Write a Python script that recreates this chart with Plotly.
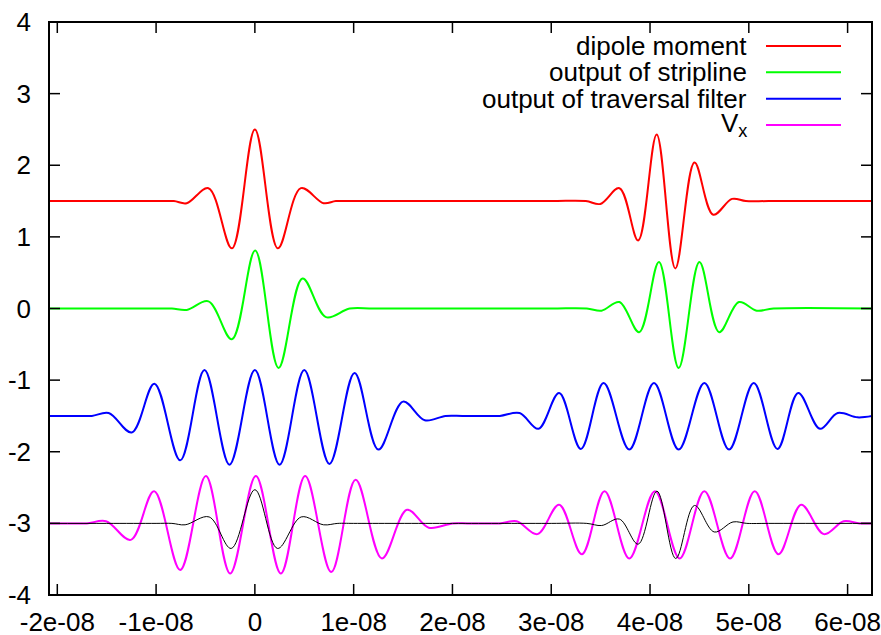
import plotly.graph_objects as go

# ---- data (time in ns, converted to seconds below) ----
dip_t = [-20.84, -15, -10, -8.2, -6.9, -4.7, -2.33, 0, 2.33, 4.66, 6.95, 8.2, 10, 20, 30, 33.5,
         34.97, 36.9, 38.8, 40.67, 42.56, 44.5, 46.4, 48.3, 49.7, 52, 62.47]
dip_y = [1.5, 1.5, 1.5, 1.5, 1.47, 1.68, 0.84, 2.50, 0.84, 1.68, 1.47, 1.5, 1.5, 1.5, 1.5, 1.5,
         1.46, 1.68, 0.95, 2.43, 0.56, 2.04, 1.31, 1.53, 1.5, 1.5, 1.5]

strip_t = [-20.84, -15, -10, -8.4, -6.9, -4.7, -2.33, 0.03, 2.4, 4.82, 7.2, 9.6, 12, 20, 30, 33.6,
           35.1, 36.9, 38.9, 40.9, 42.9, 45.0, 47.0, 49.0, 50.8, 52.5, 62.47]
strip_y = [0, 0, 0, 0, -0.02, 0.10, -0.43, 0.81, -0.83, 0.42, -0.12, 0.0, 0, 0, 0, 0,
           -0.03, 0.09, -0.33, 0.65, -0.83, 0.65, -0.33, 0.09, -0.03, 0, 0]

filt_t = [-20.84, -18, -16.5, -14.8, -12.46, -10.17, -7.56, -5.1, -2.57, 0, 2.5, 5.0, 7.55, 10.09,
          12.5, 15.0, 17.2, 19.3, 21, 23, 24.8, 26.8, 28.7, 30.8, 33.0, 35.3, 37.9, 40.4, 42.9,
          45.5, 48.0, 50.5, 52.9, 55.0, 57.2, 59.0, 61.0, 62.47]
filt_y = [-1.5, -1.5, -1.5, -1.46, -1.73, -1.05, -2.12, -0.86, -2.18, -0.86, -2.18, -0.86, -2.17, -0.90,
          -1.97, -1.30, -1.56, -1.5, -1.5, -1.5, -1.5, -1.46, -1.68, -1.18, -1.96, -1.04, -1.97, -1.04, -1.97,
          -1.04, -1.97, -1.04, -1.96, -1.18, -1.68, -1.46, -1.52, -1.5]

vx_t = [-20.84, -18.5, -17, -15.06, -12.56, -10.2, -7.56, -4.96, -2.5, 0.1, 2.63, 5.09, 7.73, 10.2,
        12.86, 15.4, 17.6, 20.0, 21.5, 23, 24.8, 26.5, 28.6, 30.8, 33.1, 35.4, 37.9, 40.5, 43.0,
        45.5, 48.1, 50.6, 53.0, 55.3, 57.6, 59.6, 61.2, 62.47]
vx_y = [-3, -3, -3, -2.97, -3.23, -2.55, -3.65, -2.34, -3.70, -2.34, -3.70, -2.34, -3.68, -2.39,
        -3.49, -2.81, -3.06, -3.0, -3.0, -3, -3, -2.97, -3.15, -2.74, -3.43, -2.55, -3.49, -2.55, -3.49,
        -2.55, -3.49, -2.55, -3.43, -2.74, -3.15, -2.97, -3.0, -3.0]

blk_t = [-20.84, -15, -10, -8.4, -7.06, -4.63, -2.4, 0, 2.29, 4.69, 6.95, 8.4, 10, 20, 30, 33.6,
         35.1, 36.9, 38.8, 40.7, 42.6, 44.5, 46.5, 48.4, 49.8, 52, 62.47]
blk_y = [-3, -3, -3, -3, -3.02, -2.91, -3.35, -2.53, -3.35, -2.91, -3.02, -3, -3, -3, -3, -3,
         -3.03, -2.94, -3.29, -2.55, -3.49, -2.75, -3.12, -2.98, -3, -3, -3]

x_ticks = [-2e-08, -1e-08, 0, 1e-08, 2e-08, 3e-08, 4e-08, 5e-08, 6e-08]
x_tick_labels = ["-2e-08", "-1e-08", "0", "1e-08", "2e-08", "3e-08", "4e-08", "5e-08", "6e-08"]
y_ticks = [-4, -3, -2, -1, 0, 1, 2, 3, 4]

series = [
    ("dipole moment", dip_t, dip_y, "#ff0000", 2),
    ("output of stripline", strip_t, strip_y, "#00ff00", 2),
    ("output of traversal filter", filt_t, filt_y, "#0000ff", 2),
    ("V<sub>x</sub>", vx_t, vx_y, "#ff00ff", 2),
    (None, blk_t, blk_y, "#000000", 1),
]

NS = 1e-9
FONT = "Liberation Sans, Arial, Helvetica, sans-serif"
FS = 26

fig = go.Figure()
for name, t, y, col, w in series:
    fig.add_trace(go.Scatter(
        x=[v * NS for v in t], y=y, mode="lines",
        line=dict(color=col, width=w, shape="spline", smoothing=1.0),
        showlegend=False, hoverinfo="skip"))

# plot area in page pixels
L, R, T, B = 49, 872, 22, 595
W, H = R - L, B - T
TICK = 11  # tick length, px

# frame (gnuplot border)
fig.add_shape(type="rect", xref="paper", yref="paper", x0=0, x1=1, y0=0, y1=1,
              line=dict(color="black", width=2), layer="above")
# inside ticks, mirrored on all four sides
for tv in x_ticks:
    for y0, y1 in ((0, TICK / H), (1 - TICK / H, 1)):
        fig.add_shape(type="line", xref="x", yref="paper", x0=tv, x1=tv, y0=y0, y1=y1,
                      line=dict(color="black", width=1.5), layer="above")
for tv in y_ticks:
    for x0, x1 in ((0, TICK / W), (1 - TICK / W, 1)):
        fig.add_shape(type="line", xref="paper", yref="y", x0=x0, x1=x1, y0=tv, y1=tv,
                      line=dict(color="black", width=1.5), layer="above")

# custom gnuplot-style legend (text right, sample line to its right)
rows_px = [46, 72.3, 98.7, 125]
text_right_px = 749
line_x0_px, line_x1_px = 766, 841
for (name, t, y, col, w), ry in zip(series[:4], rows_px):
    yp = (B - ry) / H
    fig.add_annotation(x=(text_right_px - L) / W, y=yp, xref="paper", yref="paper",
                       text=name, showarrow=False, xanchor="right", yanchor="middle",
                       font=dict(family=FONT, size=FS, color="black"))
    fig.add_shape(type="line", xref="paper", yref="paper",
                  x0=(line_x0_px - L) / W, x1=(line_x1_px - L) / W, y0=yp, y1=yp,
                  line=dict(color=col, width=2))

axis_common = dict(showline=False, ticks="", showgrid=False, zeroline=False, automargin=False,
                   tickfont=dict(family=FONT, size=FS, color="black"))

fig.update_layout(
    width=881, height=635,
    margin=dict(l=L, r=881 - R, t=T, b=635 - B),
    paper_bgcolor="white", plot_bgcolor="white",
    xaxis=dict(range=[-2.084e-08, 6.247e-08], tickvals=x_ticks, ticktext=x_tick_labels,
               ticklabelstandoff=9, **axis_common),
    yaxis=dict(range=[-4, 4], tickvals=y_ticks, ticktext=[str(v) for v in y_ticks],
               ticklabelstandoff=17, **axis_common),
)

fig.write_html(
    "out.html",
    config={"displayModeBar": False},
    post_script="document.body.style.margin='0';",
)
